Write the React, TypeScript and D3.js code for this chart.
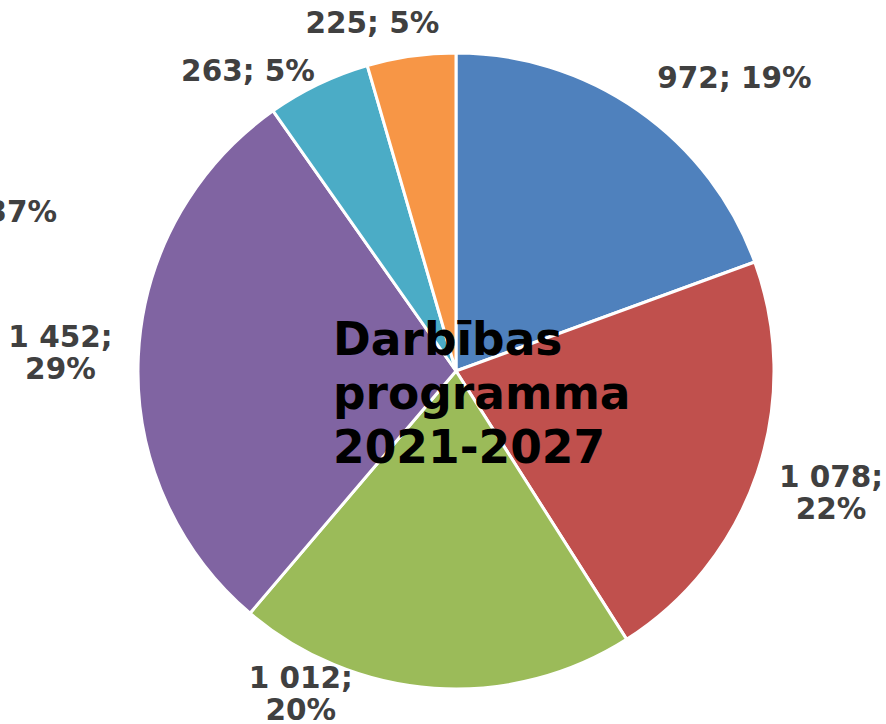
import React from "react";
import * as d3 from "d3";

const categories = ["A", "B", "C", "D", "E", "F"];
const values = [972, 1078, 1012, 1452, 263, 225];
const percents = [19, 22, 20, 29, 5, 5];
const colors = ["#4F81BD", "#C0504D", "#9BBB59", "#8064A2", "#4BACC6", "#F79646"];
const twoLine = [false, true, true, true, false, false];
const titleLines = ["Darbības", "programma", "2021-2027"];

// layout nudges for labels (best-fit placement)
const labelNudge: [number, number][] = [
  [52, 31],
  [1, -5],
  [-128, -71],
  [-1, 0],
  [-37, 56],
  [-28, 43],
];

const W = 886;
const H = 724;
const CX = 456;
const CY = 371;
const R = 318;
const LABEL_R = 395;
const FONT = "Verdana, 'DejaVu Sans', sans-serif";

export default function App() {
  const pie = d3
    .pie<number>()
    .sort(null)
    .value((d) => d)(values);
  const arc = d3.arc<d3.PieArcDatum<number>>().innerRadius(0).outerRadius(R);
  const fmtNum = (v: number) => d3.format(",")(v).replace(/,/g, " ");

  return (
    <svg
      width={W}
      height={H}
      style={{ position: "absolute", left: 0, top: 0, background: "#fff" }}
    >
      <g transform={`translate(${CX},${CY})`}>
        {pie.map((p, i) => (
          <path
            key={categories[i]}
            d={arc(p) || ""}
            fill={colors[i]}
            stroke="#fff"
            strokeWidth={3}
            strokeLinejoin="round"
          />
        ))}
        {pie.map((p, i) => {
          const a = (p.startAngle + p.endAngle) / 2;
          const x = Math.sin(a) * LABEL_R + labelNudge[i][0];
          const y = -Math.cos(a) * LABEL_R + labelNudge[i][1];
          const pc = `${percents[i]}%`;
          const lines = twoLine[i]
            ? [`${fmtNum(p.data)};`, pc]
            : [`${fmtNum(p.data)}; ${pc}`];
          const lh = 32;
          const b0 = y + 10 - ((lines.length - 1) * lh) / 2;
          return (
            <text
              key={"l" + i}
              textAnchor="middle"
              fontFamily={FONT}
              fontWeight="bold"
              fontSize={29.5}
              fill="#404040"
            >
              {lines.map((t, j) => (
                <tspan key={j} x={x} y={b0 + j * lh}>
                  {t}
                </tspan>
              ))}
            </text>
          );
        })}
        <text fontFamily={FONT} fontWeight="bold" fontSize={45.5} fill="#000">
          {titleLines.map((t, j) => (
            <tspan key={j} x={-123} y={-16 + j * 54}>
              {t}
            </tspan>
          ))}
        </text>
      </g>
      <text
        x={57}
        y={222}
        textAnchor="end"
        fontFamily={FONT}
        fontWeight="bold"
        fontSize={29.5}
        fill="#404040"
      >
        37%
      </text>
    </svg>
  );
}
